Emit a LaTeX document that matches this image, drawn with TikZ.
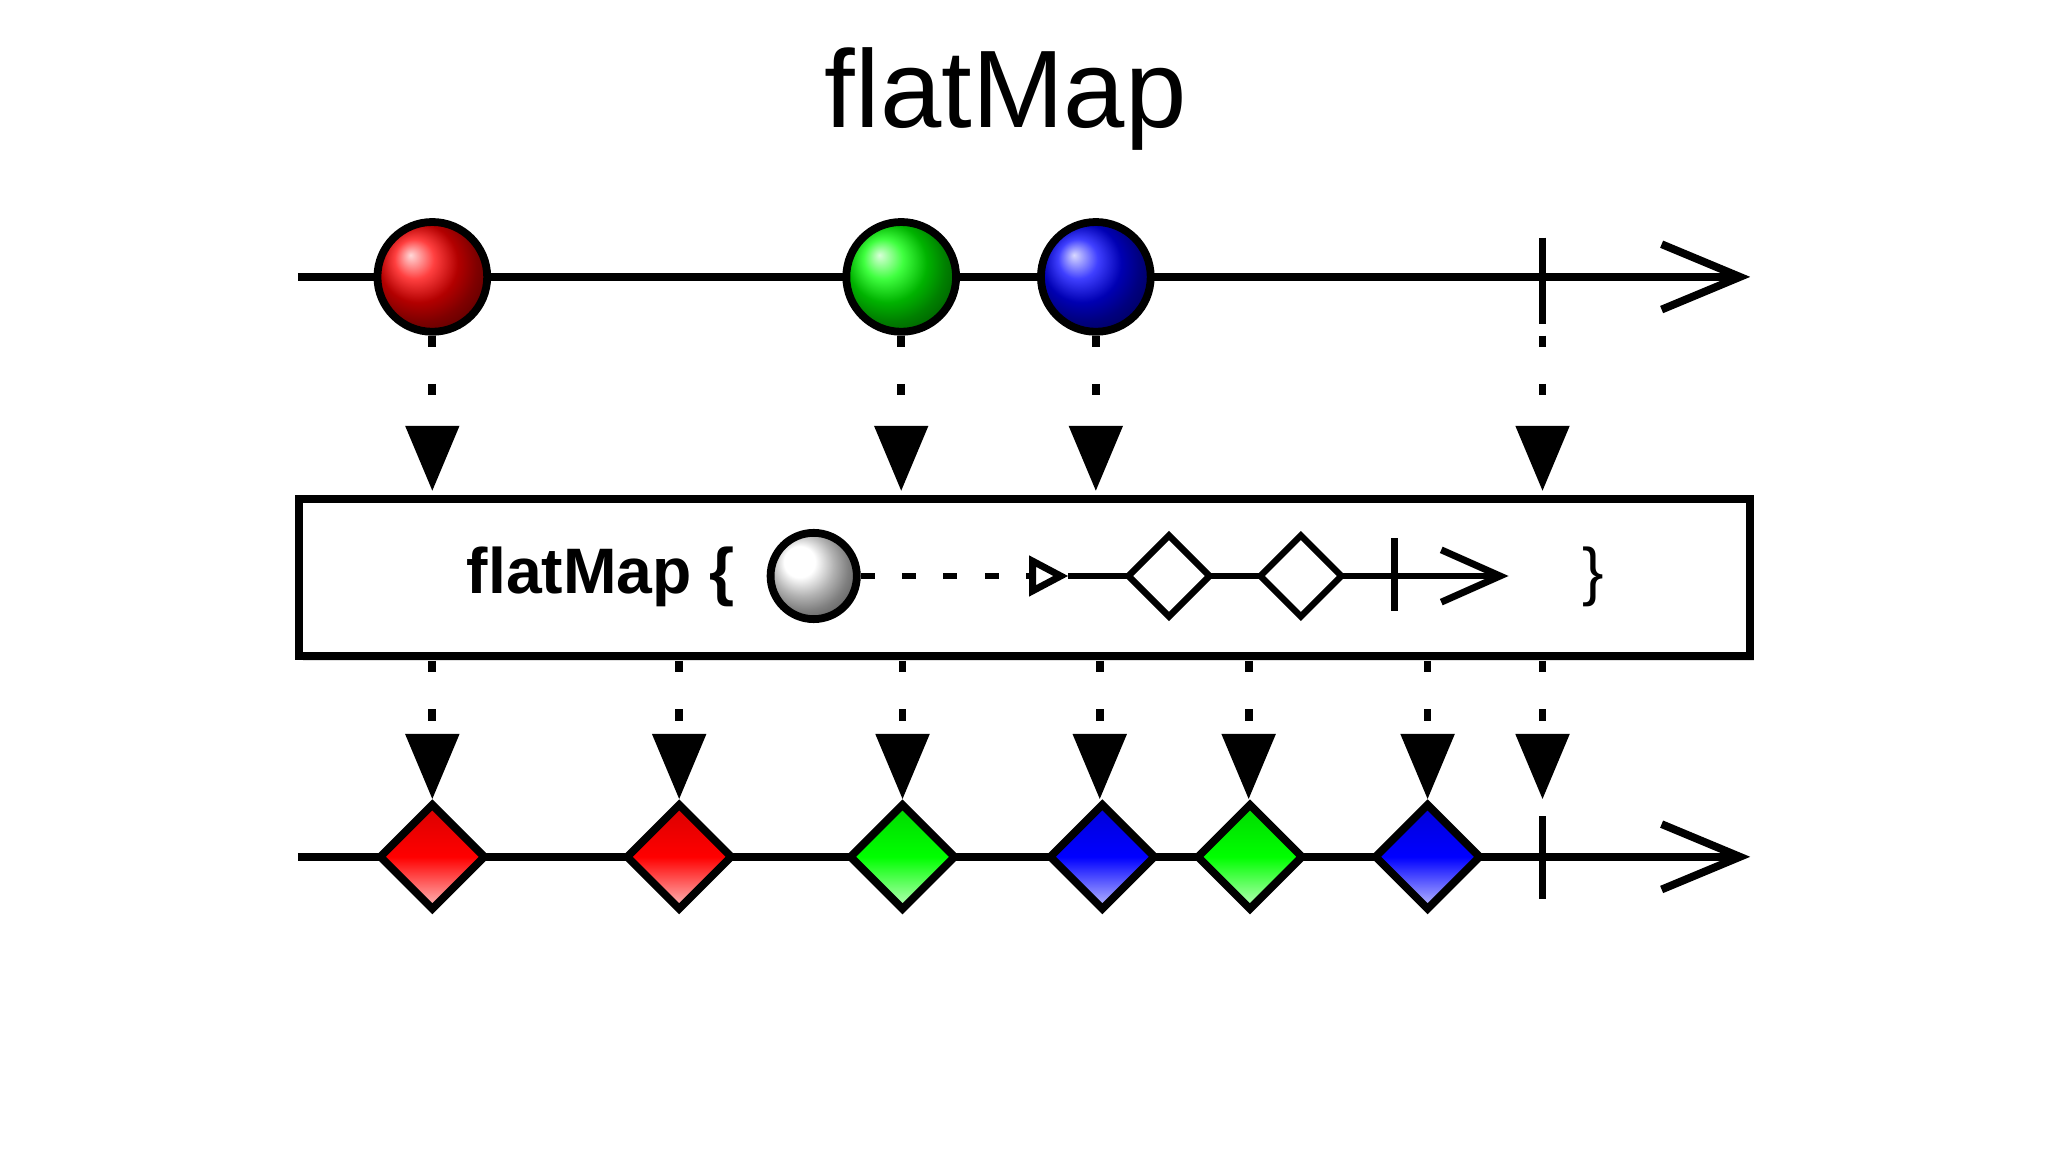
\documentclass[tikz,border=0pt]{standalone}
\usepackage{fontspec}
\setmainfont{Liberation Sans}
\usetikzlibrary{shapes.geometric,arrows.meta,shadows}
\begin{document}
\begin{tikzpicture}[x=0.01cm,y=-0.01cm,
  line/.style={line width=1.7pt},
  ball/.style={circle,draw,line width=1.7pt,minimum size=0.84cm,inner sep=0pt},
  dia/.style={diamond,draw,line width=1.7pt,minimum size=0.82cm,inner sep=0pt},
  sdia/.style={diamond,draw,line width=1.4pt,fill=white,minimum size=0.64cm,inner sep=0pt},
  drop/.style={line width=1.7pt,dash pattern=on 2.5pt off 8pt,-{Triangle[length=0.5cm,width=0.4cm]}},
  open/.style={-{Straight Barb[length=0.6cm,width=0.5cm,line width=1.7pt]}},
  tick/.style={line width=1.7pt}]
\useasboundingbox (0,0) rectangle (1568,882);
\node[font=\fontsize{24}{28}\selectfont] (title) at (770,76) {flatMap};
% top line
\coordinate (ts) at (228,212); \coordinate (te) at (1340,212);
\draw[line,open] (ts) -- (te);
\node[ball,ball color=red] (b1) at (331,212) {};
\node[ball,ball color=green] (b2) at (690,212) {};
\node[ball,ball color=blue] (b3) at (839,212) {};
\coordinate (t1a) at (1181,182); \coordinate (t1b) at (1181,248);
\draw[tick] (t1a) -- (t1b);
% box
\node[draw,line width=1.7pt,fill=white,drop shadow={opacity=0.25,shadow xshift=0.03cm,shadow yshift=-0.04cm},minimum width=11.1cm,minimum height=1.2cm,anchor=north west] (box) at (226,379) {};
% drops top
\foreach \x/\n in {331/a,690/b,839/c,1181/d}{
  \coordinate (u\n) at (\x,257); \coordinate (v\n) at (\x,376);
  \draw[drop] (u\n) -- (v\n);}
% inside
\node[font=\bfseries\fontsize{14}{16}\selectfont] (lbl) at (460,442) {flatMap \{};
\node[ball,ball color=white,minimum size=0.66cm] (ib) at (623,441) {};
\coordinate (ia) at (818,441);
\draw[line width=1.5pt,dash pattern=on 3pt off 6pt,-{Triangle[open,length=0.3cm,width=0.3cm,line width=1.5pt]}] (ib) -- (ia);
\coordinate (ie) at (1155,441);
\draw[line width=1.5pt,-{Straight Barb[length=0.45cm,width=0.4cm,line width=1.5pt]}] (ia) -- (ie);
\node[sdia] (d1) at (895,441) {};
\node[sdia] (d2) at (996,441) {};
\coordinate (ka) at (1068,412); \coordinate (kb) at (1068,468);
\draw[line width=1.5pt] (ka) -- (kb);
\node[font=\fontsize{14}{16}\selectfont] (rb) at (1220,442) {\}};
% drops bottom
\foreach \x/\n in {331/a,520/b,691/c,842/d,956/e,1093/f,1181/g}{
  \coordinate (p\n) at (\x,506); \coordinate (q\n) at (\x,612);
  \draw[drop] (p\n) -- (q\n);}
% bottom line
\coordinate (bs) at (228,656); \coordinate (be) at (1340,656);
\draw[line,open] (bs) -- (be);
\foreach \x/\c/\n in {331/red/1,520/red/2,691/green/3,844/blue/4,957/green/5,1093/blue/6}{
  \node[dia,top color=\c!85!black,bottom color=\c!25!white,middle color=\c] (e\n) at (\x,656) {};}
\coordinate (t2a) at (1181,625); \coordinate (t2b) at (1181,688);
\draw[tick] (t2a) -- (t2b);
\end{tikzpicture}
\end{document}
